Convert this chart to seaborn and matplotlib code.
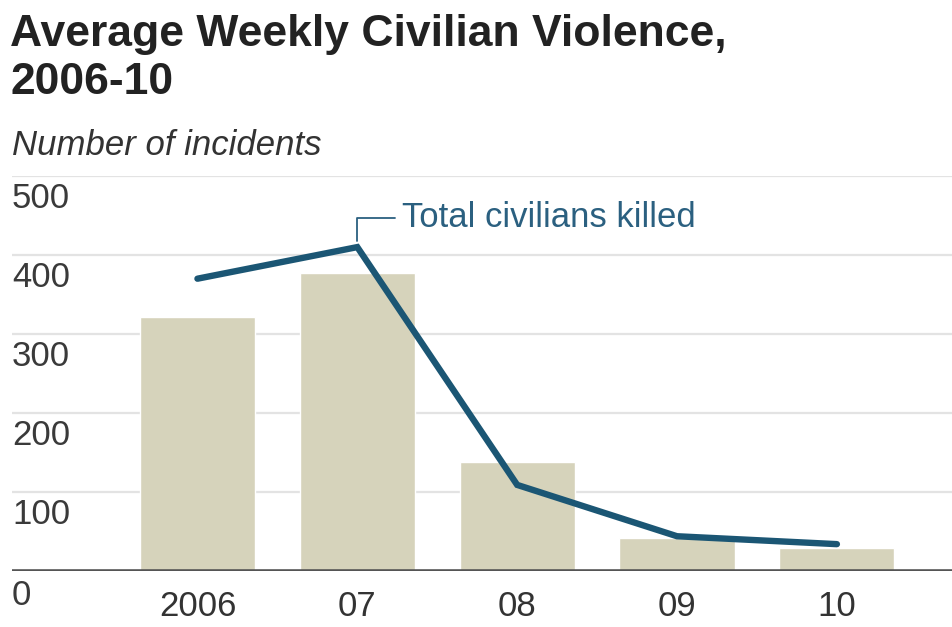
import matplotlib
matplotlib.use("Agg")
import matplotlib.pyplot as plt
import seaborn as sns
import pandas as pd

years = ["2006", "07", "08", "09", "10"]
incidents = [321, 377, 138, 42, 29]
killed = [370, 410, 109, 44, 34]
y_ticks = [0, 100, 200, 300, 400, 500]

title = "Average Weekly Civilian Violence,\n2006-10"
subtitle = "Number of incidents"
line_label = "Total civilians killed"

sns.set_theme(style="white")
plt.rcParams["font.family"] = ["Liberation Sans", "DejaVu Sans"]

df = pd.DataFrame({"year": years, "incidents": incidents, "killed": killed})

fig = plt.figure(figsize=(9.52, 6.27), dpi=100)
ax = fig.add_axes([0.0126, 0.0893, 0.9874, 0.6300])

bar_c = "#d6d3bb"
line_c = "#1b5674"

sns.barplot(data=df, x="year", y="incidents", color=bar_c, width=0.72,
            saturation=1, ax=ax, zorder=2)
ax.plot(range(len(years)), df["killed"], color=line_c, lw=4.6,
        solid_capstyle="round", solid_joinstyle="miter", zorder=4)

ax.set_xlim(-1.16, 4.72)
ax.set_ylim(0, 500)
for v in y_ticks[1:]:
    ax.axhline(v, color="#e3e3e3", lw=1.6, zorder=1)
ax.axhline(0, color="#555555", lw=2.6, zorder=5)

for s in ax.spines.values():
    s.set_visible(False)
ax.set_yticks([])
ax.set_xlabel("")
ax.set_ylabel("")
ax.tick_params(axis="x", length=0, pad=14, labelsize=25, labelcolor="#333333")

for v in y_ticks:
    ax.annotate(str(v), xy=(0, v), xycoords=("axes fraction", "data"),
                xytext=(0, -4 if v else -6), textcoords="offset points",
                ha="left", va="top", fontsize=25, color="#3a3a3a")

ax.annotate(line_label, xy=(1, killed[1] + 8), xytext=(1.28, 447),
            textcoords="data", ha="left", va="center", fontsize=25,
            color="#2b6080",
            arrowprops=dict(arrowstyle="-", color="#2b6080", lw=1.3,
                            connectionstyle="angle,angleA=0,angleB=90,rad=0",
                            shrinkA=3, shrinkB=0))

fig.text(0.011, 0.977, title, ha="left", va="top", fontsize=32,
         fontweight="bold", color="#222222", linespacing=1.2)
fig.text(0.013, 0.768, subtitle, ha="left", va="center", fontsize=25,
         fontstyle="italic", color="#333333")

fig.savefig("out.png", dpi=100)
